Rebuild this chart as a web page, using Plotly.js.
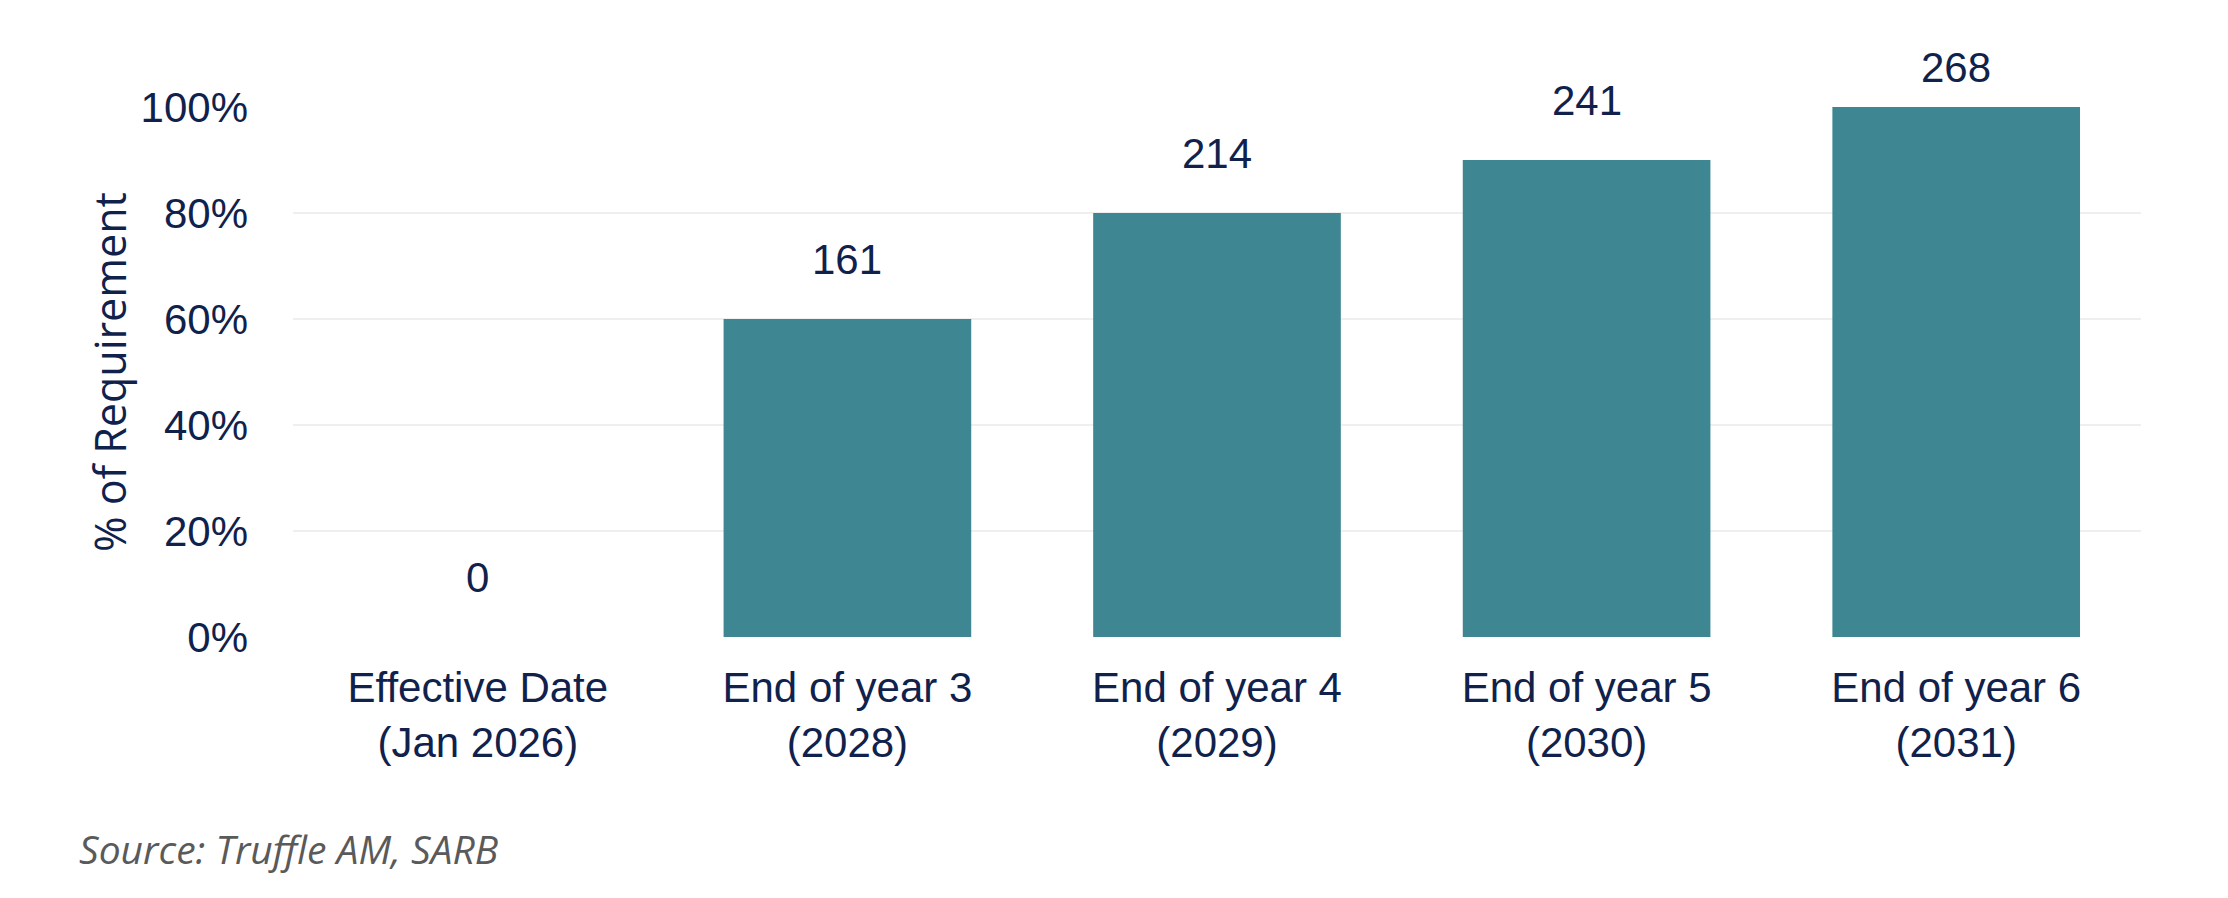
<!DOCTYPE html>
<html>
<head>
<meta charset="utf-8">
<script src="https://cdn.plot.ly/plotly-3.0.1.min.js"></script>
<style>
  html, body { margin: 0; padding: 0; background: #fff; }
  #plot { width: 2228px; height: 898px; }
</style>
</head>
<body>
<div id="plot"></div>
<script>
// Categories along the x axis
var categories = [
  "Effective Date<br>(Jan 2026)",
  "End of year 3<br>(2028)",
  "End of year 4<br>(2029)",
  "End of year 5<br>(2030)",
  "End of year 6<br>(2031)"
];

// Share of the requirement reached (%)
var percentOfRequirement = [0, 60, 80, 90, 100];

// Values printed above each bar
var barLabels = ["0", "161", "214", "241", "268"];

// y axis ticks
var tickValues = [0, 20, 40, 60, 80, 100];
var tickLabels = ["0%", "20%", "40%", "60%", "80%", "100%"];

var navy = "#10224c";

var bars = {
  x: categories,
  y: percentOfRequirement,
  type: "bar",
  marker: { color: "#3d8692" },
  hoverinfo: "skip"
};

// labels sit above the bars; the top one is pulled in to stay inside the chart
var labelNotes = barLabels.map(function (label, i) {
  return {
    x: categories[i],
    y: percentOfRequirement[i],
    xref: "x",
    yref: "y",
    text: label,
    showarrow: false,
    yanchor: "bottom",
    yshift: percentOfRequirement[i] >= 100 ? 14 : 34,
    font: { family: "Liberation Sans, Arial, sans-serif", size: 42, color: navy }
  };
});

labelNotes.push({
  xref: "paper",
  yref: "paper",
  x: -0.117,
  y: -0.345,
  xanchor: "left",
  yanchor: "top",
  showarrow: false,
  text: "<i>Source: Truffle AM, SARB</i>",
  font: { family: "Open Sans, sans-serif", size: 39, color: "#5a5a5a" }
});

var layout = {
  width: 2228,
  height: 898,
  margin: { l: 293, r: 87, t: 107, b: 261 },
  paper_bgcolor: "#ffffff",
  plot_bgcolor: "#ffffff",
  showlegend: false,
  bargap: 0.33,
  font: { family: "Liberation Sans, Arial, sans-serif", color: navy },
  xaxis: {
    type: "category",
    showgrid: false,
    zeroline: false,
    showline: false,
    ticks: "",
    ticklabelstandoff: 22,
    tickfont: { size: 42, color: navy }
  },
  yaxis: {
    range: [0, 100],
    tickvals: tickValues,
    ticktext: tickLabels,
    showgrid: true,
    gridcolor: "#efefef",
    gridwidth: 2.5,
    zeroline: false,
    showline: false,
    ticks: "",
    ticklabelstandoff: 44,
    tickfont: { size: 42, color: navy },
    title: {
      text: "% of Requirement",
      font: { family: "Open Sans, sans-serif", size: 43, color: navy },
      standoff: 0
    }
  },
  annotations: labelNotes
};

Plotly.newPlot("plot", [bars], layout, { displayModeBar: false, staticPlot: true });
</script>
</body>
</html>
